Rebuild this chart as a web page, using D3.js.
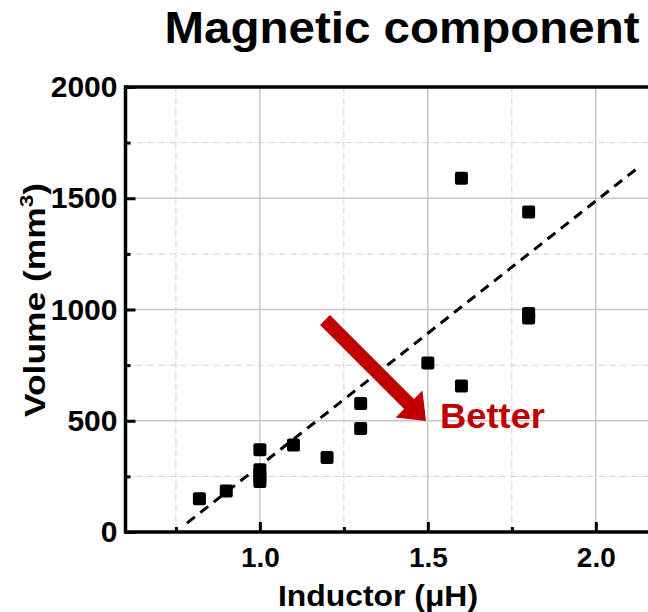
<!DOCTYPE html>
<html><head><meta charset="utf-8">
<script src="https://cdn.jsdelivr.net/npm/d3@7"></script>
<style>body{margin:0;background:#fff}svg{display:block;font-family:"Liberation Sans",Arial,sans-serif;font-weight:bold}</style>
</head><body><svg id="c" width="648" height="612"></svg>
<script>
const inductance = [0.82, 0.9, 1.0, 1.0, 1.0, 1.0, 1.1, 1.2, 1.3, 1.3, 1.5, 1.6, 1.6, 1.8, 1.8, 1.8];
const volume     = [150, 184, 370, 280, 250, 227, 391, 335, 578, 465, 760, 1590, 656, 1438, 982, 962];
const fitX = [0.783, 2.128];
const fitY = [40, 1640];
const xMajor = [1.0, 1.5, 2.0];
const xMinor = [0.75, 1.25, 1.75];
const yMajor = [0, 500, 1000, 1500, 2000];
const yMinor = [250, 750, 1250, 1750];
const xTickLabels = ["1.0", "1.5", "2.0"];
const yTickLabels = ["0", "500", "1000", "1500", "2000"];

const svg = d3.select("#c");
const x = d3.scaleLinear().domain([0.6, 2.2]).range([125.5, 663]);
const y = d3.scaleLinear().domain([0, 2000]).range([532, 87]);
const L = 125.5, R = 663, T = 87, B = 532;
const FF = "Liberation Sans, Arial, sans-serif";

// grid
const g = svg.append("g");
g.selectAll(".gxm").data(xMinor).join("line").attr("x1", d=>x(d)).attr("x2", d=>x(d)).attr("y1", T).attr("y2", B)
  .attr("stroke", "#cfcfcf").attr("stroke-width", 1).attr("stroke-dasharray", "6,2,1,2");
g.selectAll(".gym").data(yMinor).join("line").attr("y1", d=>y(d)).attr("y2", d=>y(d)).attr("x1", L).attr("x2", R)
  .attr("stroke", "#cfcfcf").attr("stroke-width", 1).attr("stroke-dasharray", "6,2,1,2");
g.selectAll(".gx").data(xMajor).join("line").attr("x1", d=>x(d)).attr("x2", d=>x(d)).attr("y1", T).attr("y2", B)
  .attr("stroke", "#c8c8c8").attr("stroke-width", 1.5);
g.selectAll(".gy").data(yMajor.slice(1,4)).join("line").attr("y1", d=>y(d)).attr("y2", d=>y(d)).attr("x1", L).attr("x2", R)
  .attr("stroke", "#c8c8c8").attr("stroke-width", 1.5);

// fit line
svg.append("line").attr("x1", x(fitX[0])).attr("y1", y(fitY[0])).attr("x2", x(fitX[1])).attr("y2", y(fitY[1]))
  .attr("stroke", "#000").attr("stroke-width", 3).attr("stroke-dasharray", "10,7");

// points
const s = 13;
svg.selectAll(".pt").data(inductance.map((d,i)=>[d, volume[i]])).join("rect")
  .attr("x", d=>x(d[0]) - s/2).attr("y", d=>y(d[1]) - s/2).attr("width", s).attr("height", s)
  .attr("rx", 2).attr("fill", "#000");

// axes
const xAxis = d3.axisBottom(x).tickValues(xMajor).tickSize(-10).tickFormat((d,i)=>xTickLabels[i]).tickPadding(15);
const xa = svg.append("g").attr("transform", `translate(0,${B})`).call(xAxis);
xa.select(".domain").remove();
xa.selectAll(".tick line").attr("stroke-width", 3);
xa.selectAll(".tick text").attr("font-size", 28).attr("font-weight", "bold").attr("font-family", FF).attr("fill", "#000");
const xMinorAxis = d3.axisBottom(x).tickValues(xMinor).tickSize(-5).tickFormat("");
const xm = svg.append("g").attr("transform", `translate(0,${B})`).call(xMinorAxis);
xm.select(".domain").remove();
xm.selectAll(".tick line").attr("stroke-width", 3);

const yAxis = d3.axisLeft(y).tickValues(yMajor).tickSize(-10).tickFormat((d,i)=>yTickLabels[i]).tickPadding(8);
const ya = svg.append("g").attr("transform", `translate(${L},0)`).call(yAxis);
ya.select(".domain").remove();
ya.selectAll(".tick line").attr("stroke-width", 3);
ya.selectAll(".tick text").attr("font-size", 30).attr("font-weight", "bold").attr("font-family", FF).attr("fill", "#000");
const yMinorAxis = d3.axisLeft(y).tickValues(yMinor).tickSize(-5).tickFormat("");
const ym = svg.append("g").attr("transform", `translate(${L},0)`).call(yMinorAxis);
ym.select(".domain").remove();
ym.selectAll(".tick line").attr("stroke-width", 3);

// frame lines
svg.append("line").attr("x1", L).attr("x2", 648).attr("y1", B).attr("y2", B).attr("stroke", "#000").attr("stroke-width", 3.5);
svg.append("line").attr("x1", L).attr("x2", 648).attr("y1", T).attr("y2", T).attr("stroke", "#000").attr("stroke-width", 3.5);
svg.append("line").attr("x1", L).attr("x2", L).attr("y1", T - 1.75).attr("y2", B + 1.75).attr("stroke", "#000").attr("stroke-width", 3.5);

// arrow
const red = "#c00000";
const ax0 = 325, ay0 = 320, ax1 = 426, ay1 = 421;
const ang = Math.atan2(ay1 - ay0, ax1 - ax0);
const len = Math.hypot(ax1 - ax0, ay1 - ay0);
const ag = svg.append("g").attr("transform", `translate(${ax0},${ay0}) rotate(${ang*180/Math.PI})`);
ag.append("path").attr("fill", red)
  .attr("d", `M0,-7 L${len-24},-7 L${len-24},-19 L${len},0 L${len-24},19 L${len-24},7 L0,7 Z`);
svg.append("text").attr("x", 440).attr("y", 428).attr("font-size", 35)
  .attr("textLength", 105).attr("lengthAdjust", "spacingAndGlyphs").attr("fill", red).text("Better");

// titles
svg.append("text").attr("x", 402).attr("y", 43).attr("text-anchor", "middle").attr("font-size", 44)
  .attr("textLength", 475).attr("lengthAdjust", "spacingAndGlyphs").text("Magnetic component");
svg.append("text").attr("x", 378).attr("y", 606).attr("text-anchor", "middle").attr("font-size", 30)
  .attr("textLength", 200).attr("lengthAdjust", "spacingAndGlyphs").text("Inductor (μH)");
const yl = svg.append("text").attr("transform", "translate(45,300) rotate(-90)").attr("text-anchor", "middle").attr("font-size", 30)
  .attr("textLength", 234).attr("lengthAdjust", "spacingAndGlyphs");
yl.append("tspan").text("Volume (mm");
yl.append("tspan").attr("font-size", 19).attr("dy", -12).text("3");
yl.append("tspan").attr("dy", 12).text(")");
</script></body></html>
